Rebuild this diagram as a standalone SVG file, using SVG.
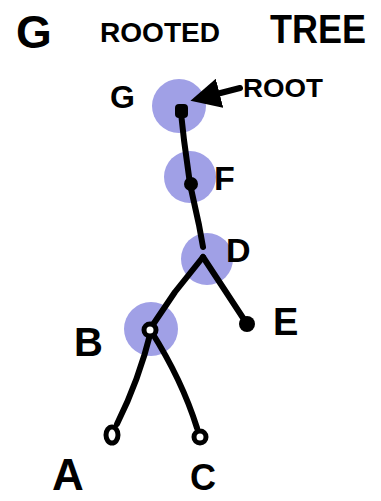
<svg xmlns="http://www.w3.org/2000/svg" width="381" height="501" viewBox="0 0 381 501">
  <defs>
    <marker id="arrowHead" viewBox="0 0 10 10" refX="5" refY="5" markerWidth="5" markerHeight="5" orient="auto-start-reverse">
      <path d="M0,0 L10,5 L0,10 z" fill="#000"/>
    </marker>
  </defs>
  <style>
    .halo { fill: #a0a0e6; }
    .edge { fill: none; stroke: #000; stroke-width: 6; stroke-linecap: round; stroke-linejoin: round; }
    .dot { fill: #000; }
    .ring { fill: #fff; stroke: #000; stroke-width: 5; }
    .lbl { font-family: "Liberation Sans", Arial, sans-serif; font-weight: bold; fill: #000; }
  </style>
  <rect width="381" height="501" fill="#fff"/>

  <!-- title -->
  <g id="title">
    <text class="lbl" x="16" y="48" font-size="46">G</text>
    <text class="lbl" x="100" y="42" font-size="28" textLength="120" lengthAdjust="spacingAndGlyphs">ROOTED</text>
    <text class="lbl" x="270" y="43" font-size="40" textLength="96" lengthAdjust="spacingAndGlyphs">TREE</text>
  </g>

  <!-- highlighted nodes -->
  <circle class="halo" cx="179" cy="106" r="27"/>
  <circle class="halo" cx="190" cy="177" r="26"/>
  <circle class="halo" cx="207" cy="259" r="26"/>
  <circle class="halo" cx="151" cy="329" r="27"/>

  <!-- connectors -->
  <g id="edges">
    <path class="edge" d="M181,113 L184,140 L190,184"/>
    <path class="edge" d="M190,184 L199,225 L203,247"/>
    <path class="edge" d="M203,257 L175,292 L150,329"/>
    <path class="edge" d="M203,257 L228,295 L247,324"/>
    <path class="edge" d="M151,331 Q139,380 117,424"/>
    <path class="edge" d="M151,331 Q182,380 197,428"/>
    <path class="edge" d="M240,88 L205,97" stroke-width="5" marker-end="url(#arrowHead)"/>
  </g>

  <!-- nodes -->
  <g id="node-G">
    <rect class="dot" x="175" y="104" width="13" height="14" rx="4"/>
    <text class="lbl" x="110" y="108" font-size="32">G</text>
  </g>
  <g id="root-label">
    <text class="lbl" x="243" y="97" font-size="26" textLength="80" lengthAdjust="spacingAndGlyphs">ROOT</text>
  </g>
  <g id="node-F">
    <circle class="dot" cx="191" cy="184" r="7"/>
    <text class="lbl" x="214" y="190" font-size="34">F</text>
  </g>
  <g id="node-D">
    <text class="lbl" x="226" y="262" font-size="34">D</text>
  </g>
  <g id="node-E">
    <circle class="dot" cx="247" cy="324" r="8"/>
    <text class="lbl" x="273" y="335" font-size="38">E</text>
  </g>
  <g id="node-B">
    <circle class="ring" cx="150" cy="330" r="6"/>
    <text class="lbl" x="74" y="356" font-size="40">B</text>
  </g>
  <g id="node-A">
    <ellipse class="ring" cx="112" cy="435" rx="6" ry="8"/>
    <text class="lbl" x="52" y="490" font-size="44">A</text>
  </g>
  <g id="node-C">
    <circle class="ring" cx="200" cy="437" r="6"/>
    <text class="lbl" x="190" y="490" font-size="36">C</text>
  </g>
</svg>
